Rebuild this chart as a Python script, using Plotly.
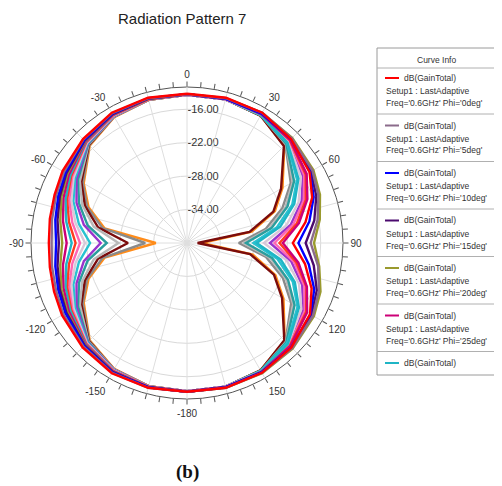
import plotly.graph_objects as go

# page places the plot div 8px in from the top-left corner of the 502x486 window
OFF = 8
W, H = 502 - OFF, 486 - OFF

# angular sample positions (deg, clockwise from top)
THETA = [0, 15, 30, 45, 60, 70, 80, 90, 100, 110, 120, 135, 150, 165, 180,
         -165, -150, -135, -120, -110, -100, -90, -80, -70, -60, -45, -30, -15, 0]

PHI = [0, 5, 10, 15, 20, 25, 30, 35, 40, 45, 50, 55, 60, 65, 70, 75, 80]

COLORS = ['#ff0000', '#8b6b8b', '#0000ff', '#4b0a6e', '#9a9a2e', '#cc0077',
          '#1fb5c5', '#ff3b1f', '#ff66b3', '#d8c8d8', '#27c2d0', '#9933cc',
          '#2a9d9d', '#b8b8b8', '#7b0c0c', '#8a8a8a', '#ff8c1a']

# dB(GainTotal) per Phi cut, values at THETA
G_PHI_0 = [-13.2, -13.0, -13.0, -13.6, -14.6, -16.1, -18.4, -21.0, -18.5, -16.2, -14.5, -13.5, -13.1, -13.1, -13.3,
           -13.1, -13.0, -13.5, -14.1, -14.6, -15.0, -15.2, -15.0, -14.7, -14.2, -13.6, -13.0, -13.0, -13.2]
G_PHI_5 = [-13.3, -13.1, -13.0, -13.4, -14.0, -14.9, -16.2, -17.8, -16.1, -14.8, -13.9, -13.3, -13.1, -13.1, -13.3,
           -13.1, -13.1, -13.7, -14.4, -15.0, -15.4, -15.7, -15.4, -15.0, -14.5, -13.7, -13.1, -13.1, -13.3]
G_PHI_10 = [-13.3, -13.2, -13.2, -13.6, -14.5, -15.8, -17.7, -20.0, -17.8, -15.7, -14.4, -13.5, -13.2, -13.2, -13.3,
            -13.2, -13.2, -13.9, -14.8, -15.4, -16.0, -16.5, -16.0, -15.4, -14.8, -13.9, -13.2, -13.1, -13.3]
G_PHI_15 = [-13.3, -13.2, -13.1, -13.5, -14.3, -15.3, -16.8, -18.7, -16.9, -15.2, -14.2, -13.4, -13.2, -13.2, -13.3,
            -13.2, -13.3, -14.0, -15.0, -15.7, -16.4, -17.0, -16.4, -15.7, -15.0, -14.0, -13.3, -13.2, -13.3]
G_PHI_20 = [-13.3, -13.1, -13.0, -13.3, -13.8, -14.6, -15.8, -17.2, -15.9, -14.5, -13.7, -13.2, -13.0, -13.1, -13.3,
            -13.2, -13.3, -14.1, -15.2, -16.0, -16.9, -17.6, -16.9, -16.0, -15.2, -14.1, -13.3, -13.2, -13.3]
G_PHI_25 = [-13.3, -13.2, -13.3, -13.8, -15.2, -17.0, -19.6, -22.8, -19.7, -17.1, -15.1, -13.8, -13.3, -13.2, -13.3,
            -13.2, -13.4, -14.2, -15.5, -16.4, -17.4, -18.4, -17.4, -16.4, -15.5, -14.2, -13.4, -13.2, -13.3]
G_PHI_30 = [-13.3, -13.2, -13.4, -14.5, -16.9, -19.5, -23.0, -27.5, -22.9, -19.4, -16.8, -14.4, -13.4, -13.2, -13.3,
            -13.2, -13.4, -14.3, -15.8, -16.8, -18.0, -19.3, -18.0, -16.8, -15.8, -14.3, -13.4, -13.2, -13.3]
G_PHI_35 = [-13.3, -13.2, -13.3, -13.9, -15.4, -17.3, -20.0, -23.4, -20.1, -17.2, -15.3, -13.9, -13.3, -13.2, -13.3,
            -13.3, -13.5, -14.4, -16.0, -17.1, -18.5, -20.0, -18.5, -17.1, -16.0, -14.4, -13.5, -13.3, -13.3]
G_PHI_40 = [-13.4, -13.3, -13.3, -14.0, -15.7, -17.7, -20.6, -24.3, -20.5, -17.6, -15.6, -14.0, -13.3, -13.3, -13.4,
            -13.3, -13.5, -14.5, -16.2, -17.5, -19.1, -20.8, -19.1, -17.5, -16.2, -14.5, -13.5, -13.3, -13.4]
G_PHI_45 = [-13.4, -13.3, -13.4, -14.3, -16.4, -18.7, -21.9, -26.2, -21.8, -18.6, -16.3, -14.3, -13.4, -13.3, -13.4,
            -13.3, -13.6, -14.6, -16.5, -17.9, -19.7, -21.7, -19.7, -17.9, -16.5, -14.6, -13.6, -13.3, -13.4]
G_PHI_50 = [-13.4, -13.3, -13.5, -14.6, -17.2, -19.9, -23.6, -28.1, -23.5, -19.8, -17.1, -14.6, -13.5, -13.3, -13.4,
            -13.3, -13.6, -14.7, -16.8, -18.3, -20.3, -22.6, -20.3, -18.3, -16.8, -14.7, -13.6, -13.3, -13.4]
G_PHI_55 = [-13.4, -13.3, -13.4, -14.1, -16.0, -18.1, -21.1, -25.1, -21.0, -18.0, -15.9, -14.1, -13.4, -13.3, -13.4,
            -13.3, -13.7, -14.8, -17.1, -18.9, -21.2, -24.5, -21.2, -18.9, -17.1, -14.8, -13.7, -13.3, -13.4]
G_PHI_60 = [-13.4, -13.3, -13.5, -14.8, -17.8, -20.8, -24.6, -29.4, -24.5, -20.7, -17.7, -14.8, -13.5, -13.3, -13.4,
            -13.3, -13.7, -14.9, -17.4, -19.4, -21.9, -25.6, -21.9, -19.4, -17.4, -14.9, -13.7, -13.3, -13.4]
G_PHI_65 = [-13.4, -13.3, -13.5, -14.9, -18.1, -21.2, -25.0, -29.9, -24.9, -21.1, -18.0, -14.9, -13.5, -13.3, -13.4,
            -13.4, -13.8, -15.0, -17.8, -20.0, -23.0, -27.7, -23.0, -20.0, -17.8, -15.0, -13.8, -13.4, -13.4]
G_PHI_70 = [-13.4, -13.3, -13.6, -15.4, -20.5, -23.5, -28.6, -38.1, -28.5, -23.4, -20.3, -15.3, -13.6, -13.3, -13.4,
            -13.4, -13.8, -15.1, -18.1, -20.5, -23.8, -29.4, -23.8, -20.5, -18.1, -15.1, -13.8, -13.4, -13.4]
G_PHI_75 = [-13.4, -13.3, -13.6, -15.0, -18.5, -21.8, -25.7, -30.7, -25.6, -21.7, -18.4, -15.0, -13.6, -13.3, -13.4,
            -13.4, -13.8, -15.2, -18.4, -20.9, -24.6, -32.5, -24.6, -20.9, -18.4, -15.2, -13.8, -13.4, -13.4]
G_PHI_80 = [-13.4, -13.3, -13.6, -15.3, -20.2, -23.2, -28.2, -37.4, -28.0, -23.1, -20.0, -15.2, -13.6, -13.3, -13.4,
            -13.4, -13.9, -15.3, -18.6, -21.2, -25.0, -34.4, -25.0, -21.2, -18.6, -15.3, -13.9, -13.4, -13.4]

CURVES = [G_PHI_0, G_PHI_5, G_PHI_10, G_PHI_15, G_PHI_20, G_PHI_25, G_PHI_30, G_PHI_35, G_PHI_40,
          G_PHI_45, G_PHI_50, G_PHI_55, G_PHI_60, G_PHI_65, G_PHI_70, G_PHI_75, G_PHI_80]

R_RANGE = [-40, -12]
R_TICKS = [-34, -28, -22, -16]
ANG_TICKS = list(range(0, 360, 5))
ANG_LABELS = {0: '0', 30: '30', 60: '60', 90: '90', 120: '120', 150: '150', 180: '-180',
              210: '-150', 240: '-120', 270: '-90', 300: '-60', 330: '-30'}
SPOKES = list(range(0, 360, 15))

FONT = 'Liberation Sans, Arial, sans-serif'

fig = go.Figure()

# light spokes (angular grid every 15 deg)
sp_t, sp_r = [], []
for s in SPOKES:
    sp_t += [s, s, None]
    sp_r += [R_RANGE[0], R_RANGE[1], None]
fig.add_trace(go.Scatterpolar(theta=sp_t, r=sp_r, mode='lines',
                              line=dict(color='#dedede', width=1),
                              hoverinfo='skip', showlegend=False))

for k in reversed(range(len(CURVES))):
    fig.add_trace(go.Scatterpolar(
        theta=THETA, r=CURVES[k], mode='lines',
        line=dict(color=COLORS[k], width=2.4),
        name=f"dB(GainTotal) Setup1 : LastAdaptive Freq='0.6GHz' Phi='{PHI[k]}deg'",
        showlegend=False))


def px(x):
    """screen x (window pixels) -> paper fraction"""
    return (x - OFF) / W


def py(y):
    """screen y (window pixels) -> paper fraction"""
    return 1 - (y - OFF) / H


cx, cy, rad = 187, 243, 156
fig.update_layout(
    width=W, height=H, margin=dict(l=0, r=0, t=0, b=0),
    paper_bgcolor='white', plot_bgcolor='white',
    font=dict(family=FONT, color='#333'),
    polar=dict(
        domain=dict(x=[px(cx - rad), px(cx + rad)],
                    y=[py(cy + rad), py(cy - rad)]),
        bgcolor='white',
        radialaxis=dict(range=R_RANGE, tickmode='array', tickvals=R_TICKS,
                        ticktext=[f'{v:.2f}' for v in R_TICKS],
                        angle=90, tickangle=90, side='clockwise',
                        showline=False, ticks='', gridcolor='#d9d9d9', gridwidth=1,
                        layer='below traces',
                        tickfont=dict(size=11, color='#333', family=FONT)),
        angularaxis=dict(rotation=90, direction='clockwise', tickmode='array',
                         tickvals=ANG_TICKS,
                         ticktext=[ANG_LABELS.get(a, '') for a in ANG_TICKS],
                         ticks='outside', ticklen=5, tickcolor='#555',
                         showline=True, linecolor='#555', linewidth=1,
                         showgrid=False, layer='below traces',
                         tickfont=dict(size=10, color='#333', family=FONT)),
    ),
)

annotations = [
    dict(text='Radiation Pattern 7', x=px(181.5), y=py(18), xref='paper', yref='paper',
         showarrow=False, xanchor='center', yanchor='middle',
         font=dict(size=15, color='#222', family=FONT)),
    dict(text='<b>(b)</b>', x=px(187), y=py(472), xref='paper', yref='paper',
         showarrow=False, xanchor='center', yanchor='middle',
         font=dict(size=19, color='#111', family='Liberation Serif, Times New Roman, serif')),
    dict(text='Curve Info', x=px(436), y=py(60), xref='paper', yref='paper',
         showarrow=False, xanchor='center', yanchor='middle',
         font=dict(size=8.5, color='#333', family=FONT)),
]

shapes = []
box_l, box_r, box_t, box_b = 377, 495, 48, 375
shapes.append(dict(type='rect', xref='paper', yref='paper', x0=px(box_r), x1=px(502),
                   y0=py(box_t), y1=py(box_b), line=dict(width=0), fillcolor='#e9e9e9'))
shapes.append(dict(type='rect', xref='paper', yref='paper', x0=px(496.5), x1=px(502),
                   y0=py(60), y1=py(175), line=dict(width=0), fillcolor='#c6c6c6'))
shapes.append(dict(type='rect', xref='paper', yref='paper', x0=px(box_l), x1=px(box_r),
                   y0=py(box_t), y1=py(box_b), line=dict(color='#9a9a9a', width=1)))
shapes.append(dict(type='line', xref='paper', yref='paper', x0=px(box_l), x1=px(box_r),
                   y0=py(68), y1=py(68), line=dict(color='#b0b0b0', width=1)))

n_show = 7
for k in range(n_show):
    E = 78 + 47.5 * k
    shapes.append(dict(type='line', xref='paper', yref='paper', x0=px(385), x1=px(399),
                       y0=py(E), y1=py(E), line=dict(color=COLORS[k], width=2)))
    lines = [('dB(GainTotal)', 402, E),
             ('Setup1 : LastAdaptive', 384, E + 13),
             (f"Freq='0.6GHz' Phi='{PHI[k]}deg'", 384, E + 25)]
    for txt, x, y in lines:
        if y > box_b - 4:
            continue
        annotations.append(dict(text=txt, x=px(x), y=py(y), xref='paper', yref='paper',
                                showarrow=False, xanchor='left', yanchor='middle',
                                font=dict(size=8.5, color='#333', family=FONT)))
    if k < n_show - 1:
        shapes.append(dict(type='line', xref='paper', yref='paper', x0=px(box_l), x1=px(box_r),
                           y0=py(E + 36), y1=py(E + 36), line=dict(color='#b0b0b0', width=1)))

fig.update_layout(annotations=annotations, shapes=shapes)
fig.write_html('out.html')
